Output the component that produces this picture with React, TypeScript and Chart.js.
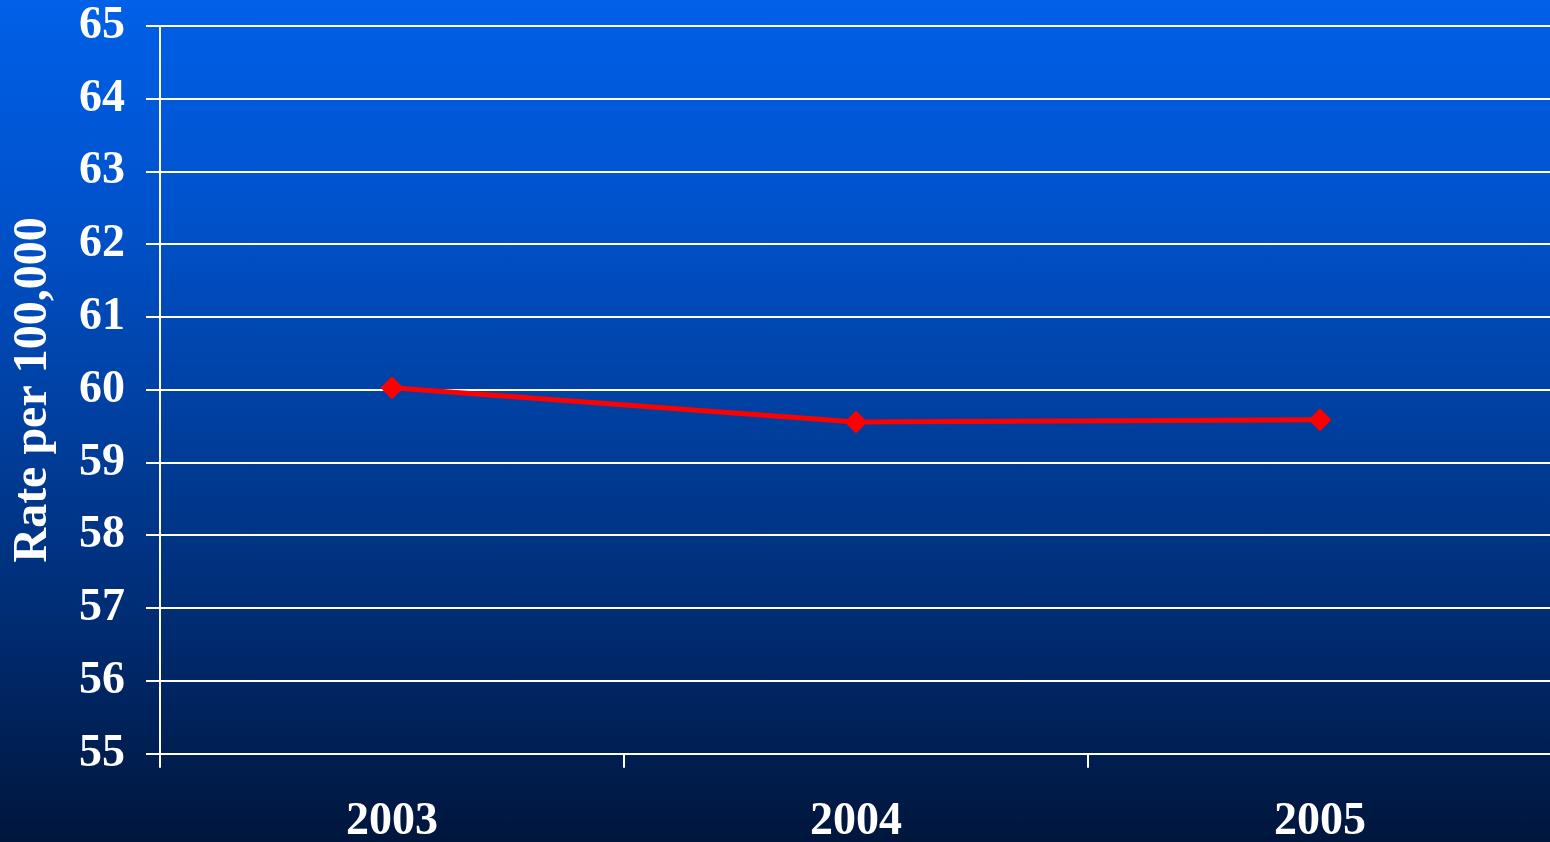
import React, { useEffect, useRef } from "react";
import { Chart, registerables } from "chart.js";

Chart.register(...registerables);

const years = ["2003", "2004", "2005"];
const rates = [60.03, 59.56, 59.59];
const yMin = 55;
const yMax = 65;
const yTitle = "Rate per 100,000";

export default function App() {
  const ref = useRef<HTMLCanvasElement | null>(null);

  useEffect(() => {
    if (!ref.current) return;
    const font = { family: "'Liberation Serif', 'Times New Roman', serif", weight: "bold" as const, size: 46 };
    const chart = new Chart(ref.current, {
      type: "line",
      data: {
        labels: years,
        datasets: [
          {
            data: rates,
            borderColor: "#ff0000",
            backgroundColor: "#ff0000",
            borderWidth: 5,
            pointStyle: "rectRot",
            pointRadius: 11,
            pointBorderWidth: 1,
            pointBackgroundColor: "#ff0000",
            pointBorderColor: "#ff0000",
            tension: 0,
          },
        ],
      },
      options: {
        animation: false,
        responsive: false,
        maintainAspectRatio: false,
        layout: { padding: { top: 8, right: 3, bottom: 12, left: 0 } },
        plugins: { legend: { display: false }, tooltip: { enabled: false } },
        scales: {
          x: {
            offset: true,
            grid: {
              offset: true,
              drawOnChartArea: false,
              drawTicks: true,
              tickLength: 14,
              color: "#ffffff",
              lineWidth: 2,
            },
            border: { display: false },
            ticks: { color: "#ffffff", font, padding: 27 },
          },
          y: {
            min: yMin,
            max: yMax,
            grid: { color: "#ffffff", lineWidth: 2, tickLength: 14 },
            border: { display: true, color: "#ffffff", width: 2 },
            ticks: { color: "#ffffff", font: { ...font, lineHeight: 1 }, stepSize: 1, padding: 21 },
            title: {
              display: true,
              text: yTitle,
              color: "#ffffff",
              font: { ...font, size: 48, lineHeight: 1 },
              padding: { top: 10, bottom: 0 },
            },
          },
        },
      },
    });
    return () => chart.destroy();
  }, []);

  return (
    <div
      style={{
        position: "fixed",
        left: 0,
        top: 0,
        width: 1550,
        height: 842,
        overflow: "hidden",
        background:
          "linear-gradient(to bottom, #0060E8 0%, #0052CC 25%, #003F9F 50%, #002B70 75%, #00163C 100%)",
      }}
    >
      <canvas
        ref={ref}
        width={1564}
        height={907}
        style={{ display: "block", position: "absolute", left: 0, top: -18, width: 1564, height: 907 }}
      />
    </div>
  );
}
